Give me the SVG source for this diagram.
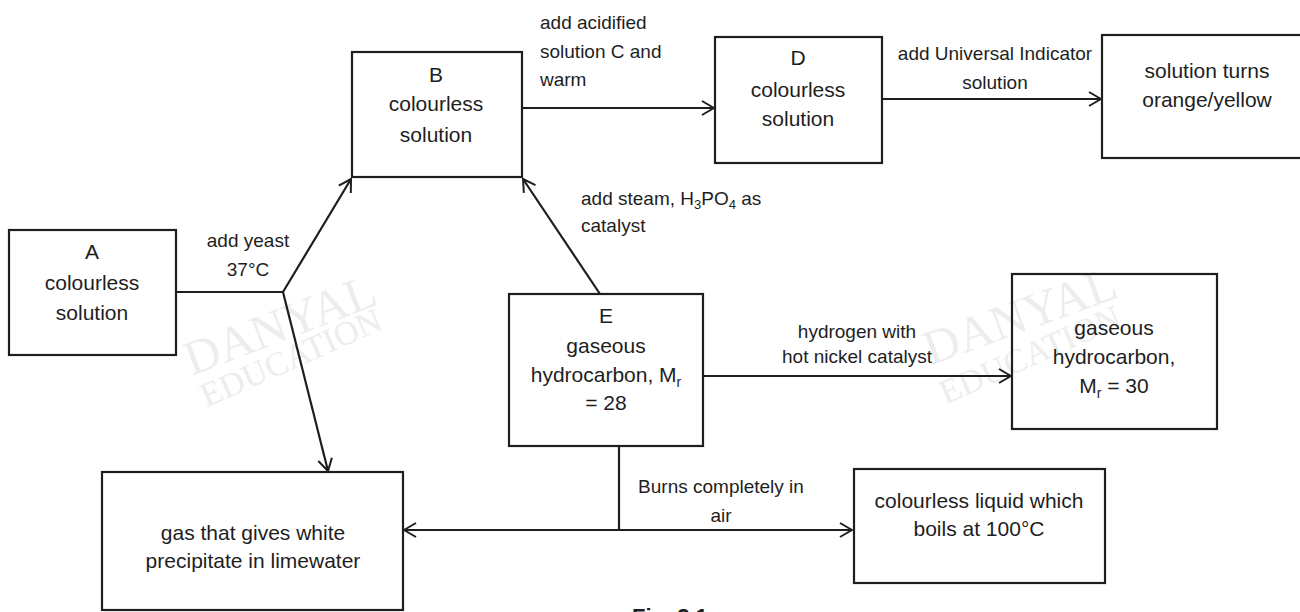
<svg xmlns="http://www.w3.org/2000/svg" width="1300" height="612" viewBox="0 0 1300 612">
<defs>
<style>
.box{fill:none;stroke:#1e1e1e;stroke-width:2.2}
.n{font-family:"Liberation Sans",Arial,sans-serif;font-size:21px;fill:#1e1e1e;text-anchor:middle}
.l{font-family:"Liberation Sans",Arial,sans-serif;font-size:19px;fill:#1e1e1e}
.c{text-anchor:middle}
.ln{fill:none;stroke:#1e1e1e;stroke-width:2.2}
.wm{font-family:"Liberation Serif","Times New Roman",serif;fill:#ededed;text-anchor:middle}
.cap{font-family:"Liberation Sans",Arial,sans-serif;font-size:22px;font-weight:bold;fill:#1e1e1e}
</style>
<marker id="ah" viewBox="0 0 14 16" refX="13" refY="8" markerWidth="14" markerHeight="16" markerUnits="userSpaceOnUse" orient="auto-start-reverse">
<path d="M1,1 L13,8 L1,15" fill="none" stroke="#1e1e1e" stroke-width="2"/>
</marker>
</defs>
<rect width="1300" height="612" fill="#fff"/>
<g id="watermarks">
<g transform="rotate(-21 280 325)"><text class="wm" x="280" y="341" font-size="49">DANYAL</text></g>
<g transform="rotate(-24 291 358)"><text class="wm" x="291" y="369" font-size="34">EDUCATION</text></g>
<g transform="rotate(-20 1020 316)"><text class="wm" x="1020" y="332" font-size="49">DANYAL</text></g>
<g transform="rotate(-24 1030 355)"><text class="wm" x="1030" y="366" font-size="34">EDUCATION</text></g>
</g>
<g id="connectors">
<polyline class="ln" points="176,292 283,292 351,179" marker-end="url(#ah)"/>
<line class="ln" x1="283" y1="292" x2="328" y2="471" marker-end="url(#ah)"/>
<line class="ln" x1="600" y1="294" x2="523" y2="179" marker-end="url(#ah)"/>
<line class="ln" x1="522" y1="108" x2="714" y2="108" marker-end="url(#ah)"/>
<line class="ln" x1="882" y1="99" x2="1101" y2="99" marker-end="url(#ah)"/>
<line class="ln" x1="703" y1="376" x2="1011" y2="376" marker-end="url(#ah)"/>
<line class="ln" x1="619" y1="446" x2="619" y2="530"/>
<line class="ln" x1="404" y1="530" x2="852" y2="530" marker-start="url(#ah)" marker-end="url(#ah)"/>
<text class="l c" x="248" y="247">add yeast</text>
<text class="l c" x="248" y="276">37°C</text>
<text class="l" x="540" y="29">add acidified</text>
<text class="l" x="540" y="58">solution C and</text>
<text class="l" x="540" y="86">warm</text>
<text class="l c" x="995" y="60">add Universal Indicator</text>
<text class="l c" x="995" y="89">solution</text>
<text class="l" x="581" y="205">add steam, H<tspan dy="4" font-size="13">3</tspan><tspan dy="-4">PO</tspan><tspan dy="4" font-size="13">4</tspan><tspan dy="-4"> as</tspan></text>
<text class="l" x="581" y="232">catalyst</text>
<text class="l c" x="857" y="338">hydrogen with</text>
<text class="l c" x="857" y="363">hot nickel catalyst</text>
<text class="l c" x="721" y="493">Burns completely in</text>
<text class="l c" x="721" y="522">air</text>
</g>
<g id="node-A">
<rect class="box" x="9" y="230" width="167" height="125"/>
<text class="n" x="92" y="259">A</text>
<text class="n" x="92" y="290">colourless</text>
<text class="n" x="92" y="320">solution</text>
</g>
<g id="node-B">
<rect class="box" x="352" y="52" width="170" height="125"/>
<text class="n" x="436" y="82">B</text>
<text class="n" x="436" y="111">colourless</text>
<text class="n" x="436" y="142">solution</text>
</g>
<g id="node-D">
<rect class="box" x="715" y="37" width="167" height="126"/>
<text class="n" x="798" y="65">D</text>
<text class="n" x="798" y="97">colourless</text>
<text class="n" x="798" y="126">solution</text>
</g>
<g id="node-orange">
<rect class="box" x="1102" y="35" width="212" height="123"/>
<text class="n" x="1207" y="78">solution turns</text>
<text class="n" x="1207" y="107">orange/yellow</text>
</g>
<g id="node-E">
<rect class="box" x="509" y="294" width="194" height="152"/>
<text class="n" x="606" y="323">E</text>
<text class="n" x="606" y="353">gaseous</text>
<text class="n" x="606" y="382">hydrocarbon, M<tspan dy="5" font-size="14">r</tspan></text>
<text class="n" x="606" y="410">= 28</text>
</g>
<g id="node-ethane">
<rect class="box" x="1012" y="274" width="205" height="155"/>
<text class="n" x="1114" y="335">gaseous</text>
<text class="n" x="1114" y="364">hydrocarbon,</text>
<text class="n" x="1114" y="393">M<tspan dy="5" font-size="14">r</tspan><tspan dy="-5"> = 30</tspan></text>
</g>
<g id="node-gas">
<rect class="box" x="102" y="472" width="301" height="138"/>
<text class="n" x="253" y="540">gas that gives white</text>
<text class="n" x="253" y="568">precipitate in limewater</text>
</g>
<g id="node-water">
<rect class="box" x="854" y="469" width="251" height="114"/>
<text class="n" x="979" y="508" font-size="20">colourless liquid which</text>
<text class="n" x="979" y="536" font-size="20">boils at 100°C</text>
</g>
<text class="cap" x="632" y="624">Fig. 2.1</text>
</svg>
